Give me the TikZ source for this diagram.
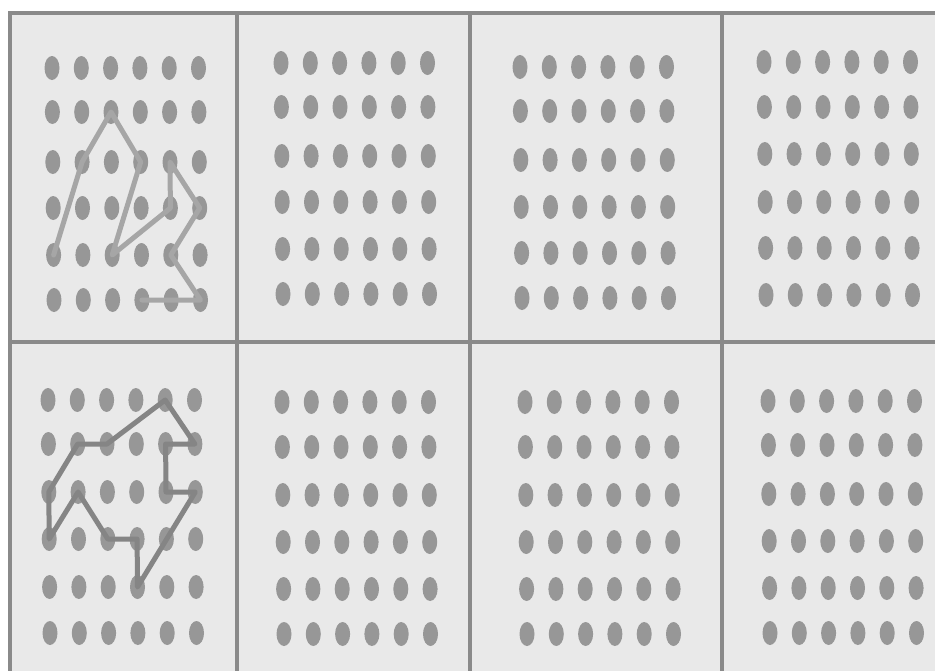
\documentclass[tikz,border=0pt]{standalone}
\usetikzlibrary{shapes.geometric}
\definecolor{panelbg}{HTML}{E9E9E9}
\definecolor{framegray}{HTML}{8A8A8A}
\definecolor{dotgray}{HTML}{979797}
\definecolor{lightpath}{HTML}{A6A6A6}
\definecolor{darkpath}{HTML}{858585}
\tikzset{
  dot/.style={ellipse, inner sep=0pt, minimum width=15pt, minimum height=24pt, fill=dotgray, draw=none},
  frame/.style={draw=framegray, line width=3.2pt},
  pathlight/.style={draw=lightpath, line width=5pt, line join=round, line cap=round},
  pathdark/.style={draw=darkpath, line width=5pt, line join=round, line cap=round}
}
\begin{document}
\begin{tikzpicture}[x=1pt,y=-1pt]
\useasboundingbox (0,0) rectangle (935,670);
\clip (0,0) rectangle (935,670);
\fill[panelbg] (10,13) rectangle (945,680);
% frame lines
\draw[frame] (10,680) -- (10,13) -- (945,13);
\draw[frame] (10,342) -- (945,342);
\draw[frame] (237,13) -- (237,680);
\draw[frame] (470,13) -- (470,680);
\draw[frame] (722,13) -- (722,680);
% dot grids
\foreach \p/\xo/\ya/\yb/\yc/\yd/\ye/\yf in {
  A/52/68/112/162/208/255/300,
  B/281/63/107/156/202/249/294,
  C/520/67/111/160/207/253/298,
  D/764/62/107/154/202/248/295,
  E/48/400/444/492/539/587/633,
  F/282/402/447/495/542/589/634,
  G/525/402/447/495/542/589/634,
  H/768/401/445/494/541/588/633}{
  \foreach \r/\y in {1/\ya,2/\yb,3/\yc,4/\yd,5/\ye,6/\yf}{
    \foreach \c in {1,...,6}{
      \node[dot] (\p-\c-\r) at ({\xo+29.3*(\c-1)+0.4*(\r-1)},\y) {};
    }
  }
}
% path in panel A
\draw[pathlight] (A-1-5.center) -- (A-2-3.center) -- (A-3-2.center) -- (A-4-3.center)
  -- (A-3-5.center) -- (A-5-4.center) -- (A-5-3.center) -- (A-6-4.center)
  -- (A-5-5.center) -- (A-6-6.center) -- (A-4-6.center);
% closed path in panel E
\draw[pathdark] (E-5-1.center) -- (E-6-2.center) -- (E-5-2.center) -- (E-5-3.center)
  -- (E-6-3.center) -- (E-4-5.center) -- (E-4-4.center) -- (E-3-4.center)
  -- (E-2-3.center) -- (E-1-4.center) -- (E-1-3.center) -- (E-2-2.center)
  -- (E-3-2.center) -- cycle;
\end{tikzpicture}
\end{document}
